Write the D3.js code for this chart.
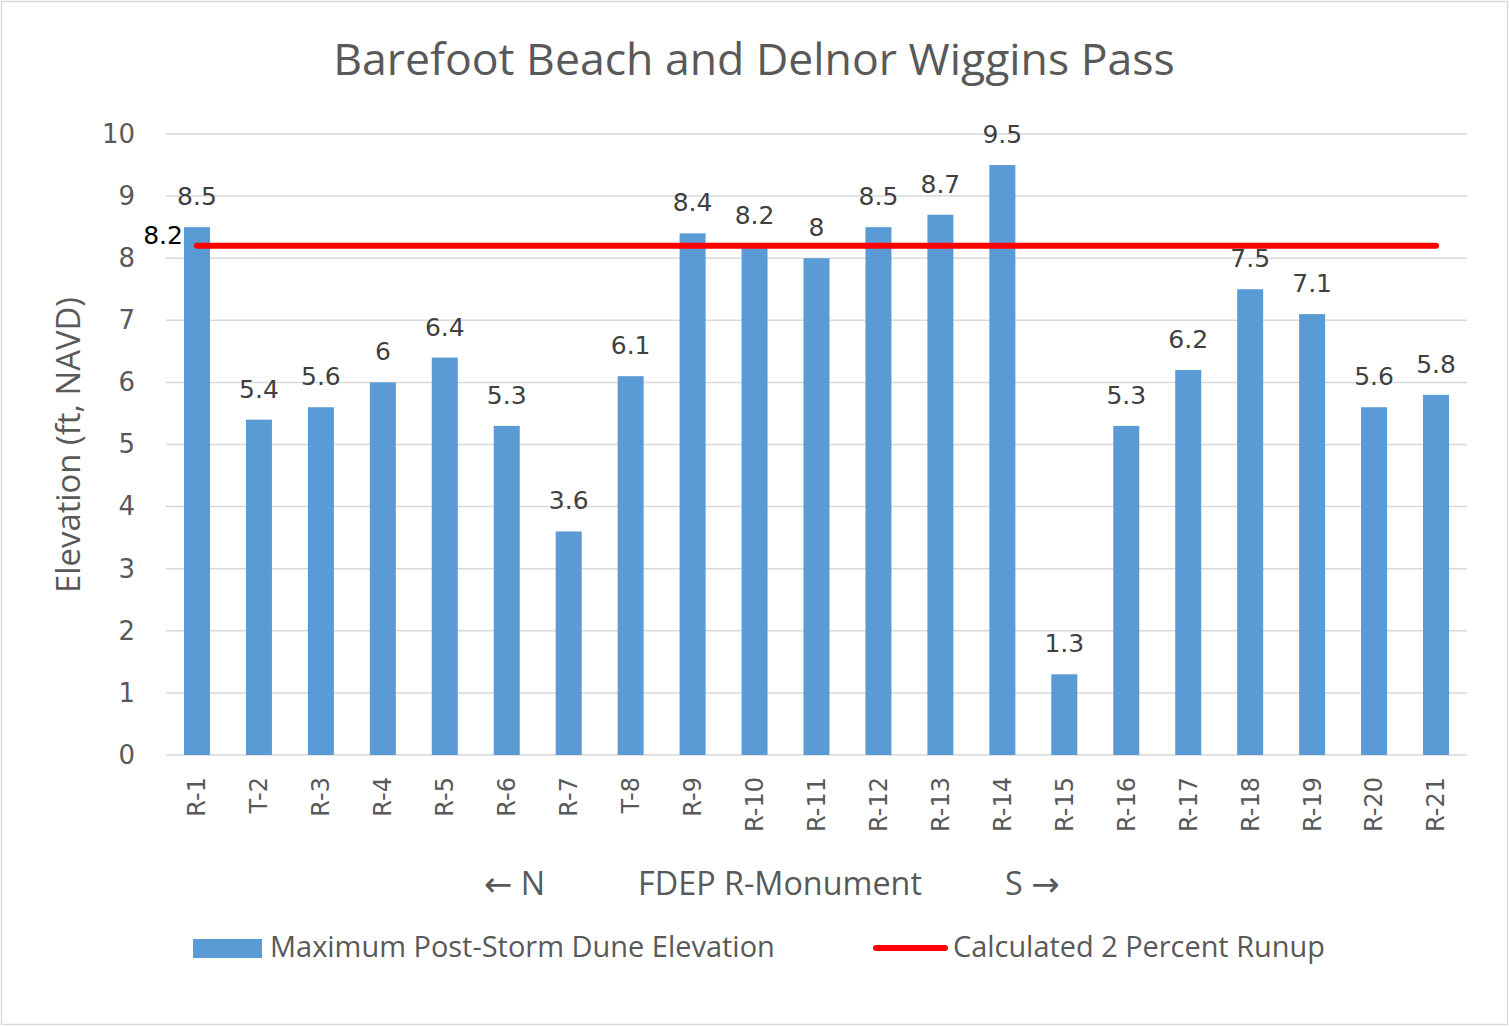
<!DOCTYPE html>
<html>
<head>
<meta charset="utf-8">
<script src="https://cdn.jsdelivr.net/npm/d3@7"></script>
<style>
  html, body { margin: 0; padding: 0; background: #fff; }
  svg { display: block; font-family: "Open Sans", "Noto Sans", sans-serif; }
</style>
</head>
<body>
<svg id="chart" width="1509" height="1027"></svg>
<script>
const categories = ["R-1","T-2","R-3","R-4","R-5","R-6","R-7","T-8","R-9","R-10","R-11","R-12","R-13","R-14","R-15","R-16","R-17","R-18","R-19","R-20","R-21"];
const duneElevation = [8.5,5.4,5.6,6,6.4,5.3,3.6,6.1,8.4,8.2,8,8.5,8.7,9.5,1.3,5.3,6.2,7.5,7.1,5.6,5.8];
const runup = [8.2,8.2,8.2,8.2,8.2,8.2,8.2,8.2,8.2,8.2,8.2,8.2,8.2,8.2,8.2,8.2,8.2,8.2,8.2,8.2,8.2];
const yTicks = [0,1,2,3,4,5,6,7,8,9,10];
const title = "Barefoot Beach and Delnor Wiggins Pass";
const yTitle = "Elevation (ft, NAVD)";
const xTitle = "FDEP R-Monument";
const seriesNames = ["Maximum Post-Storm Dune Elevation", "Calculated 2 Percent Runup"];

const svg = d3.select("#chart");
const W = 1509, H = 1027;
const plot = {left: 166, right: 1467, top: 134, bottom: 755};
const numFont = "DejaVu Sans, sans-serif";

function fit(sel, target) {
  const w = sel.node().getComputedTextLength();
  const fs = parseFloat(sel.attr("font-size"));
  sel.attr("font-size", fs * target / w);
}

svg.append("rect").attr("x", 1.5).attr("y", 1.5).attr("width", W - 3).attr("height", H - 4)
  .attr("fill", "#fff").attr("stroke", "#d9d9d9").attr("stroke-width", 1.5);

const x = d3.scaleBand().domain(categories).range([plot.left, plot.right]).paddingInner(0.58).paddingOuter(0.29);
const y = d3.scaleLinear().domain([0, 10]).range([plot.bottom, plot.top]);

// gridlines
svg.append("g").selectAll("line").data(yTicks).join("line")
  .attr("x1", plot.left).attr("x2", plot.right)
  .attr("y1", d => y(d)).attr("y2", d => y(d))
  .attr("stroke", "#d9d9d9").attr("stroke-width", 1.5);

// y axis labels
const yAxis = d3.axisLeft(y).tickValues(yTicks).tickSize(0).tickPadding(0).tickFormat(d3.format("d"));
const gy = svg.append("g").attr("transform", `translate(${135},0)`).call(yAxis);
gy.select(".domain").remove();
gy.selectAll("text").attr("font-size", 26).attr("fill", "#595959").attr("font-family", numFont);

// bars
svg.append("g").selectAll("rect").data(categories).join("rect")
  .attr("x", (d) => x(d))
  .attr("width", x.bandwidth())
  .attr("y", (d, i) => y(duneElevation[i]))
  .attr("height", (d, i) => y(0) - y(duneElevation[i]))
  .attr("fill", "#5b9bd5");

// bar labels
svg.append("g").selectAll("text").data(categories).join("text")
  .attr("x", d => x(d) + x.bandwidth() / 2)
  .attr("y", (d, i) => y(duneElevation[i]) - 22)
  .attr("text-anchor", "middle")
  .attr("font-size", 25).attr("fill", "#404040").attr("font-family", numFont)
  .text((d, i) => duneElevation[i]);

// x axis
const xAxis = d3.axisBottom(x).tickSize(0).tickPadding(0);
const gx = svg.append("g").attr("transform", `translate(0,${plot.bottom})`).call(xAxis);
gx.select(".domain").remove();
gx.selectAll("text")
  .attr("font-size", 24).attr("fill", "#595959").attr("font-family", numFont)
  .attr("text-anchor", "end")
  .attr("transform", "rotate(-90)")
  .attr("x", -22).attr("y", 0).attr("dy", "0.35em");

// runup line
const line = d3.line().x((d, i) => x(categories[i]) + x.bandwidth() / 2).y(d => y(d));
svg.append("path").datum(runup).attr("d", line)
  .attr("fill", "none").attr("stroke", "#ff0000").attr("stroke-width", 6).attr("stroke-linecap", "round");
svg.append("text")
  .attr("x", x(categories[0]) + x.bandwidth() / 2 - 14)
  .attr("y", y(runup[0]) - 2)
  .attr("text-anchor", "end")
  .attr("font-size", 25).attr("fill", "#000").attr("font-family", numFont)
  .text(runup[0]);

// title
const t = svg.append("text").attr("x", 754).attr("y", 75).attr("text-anchor", "middle")
  .attr("font-size", 40).attr("fill", "#595959").text(title);
fit(t, 842);

// y title
const yt = svg.append("text").attr("transform", `translate(80,445) rotate(-90)`).attr("text-anchor", "middle")
  .attr("font-size", 26).attr("fill", "#595959").text(yTitle);
fit(yt, 296);

// x title
const xt = svg.append("text").attr("x", 780).attr("y", 895).attr("text-anchor", "middle")
  .attr("font-size", 26).attr("fill", "#595959").text(xTitle);
fit(xt, 284);
const ln = svg.append("text").attr("x", 545).attr("y", 895).attr("text-anchor", "end")
  .attr("font-size", xt.attr("font-size")).attr("fill", "#595959");
ln.append("tspan").attr("font-family", numFont).attr("font-size", 34).attr("dy", 1).text("\u2190");
ln.append("tspan").attr("dy", -1).text(" N");
const ls = svg.append("text").attr("x", 1005).attr("y", 895).attr("text-anchor", "start")
  .attr("font-size", xt.attr("font-size")).attr("fill", "#595959");
ls.append("tspan").text("S ");
ls.append("tspan").attr("font-family", numFont).attr("font-size", 34).attr("dy", 1).text("\u2192");

// legend
svg.append("rect").attr("x", 193).attr("y", 939).attr("width", 69).attr("height", 19).attr("fill", "#5b9bd5");
const l1 = svg.append("text").attr("x", 270).attr("y", 957).attr("font-size", 26).attr("fill", "#595959").text(seriesNames[0]);
fit(l1, 505);
svg.append("line").attr("x1", 876).attr("x2", 945).attr("y1", 948).attr("y2", 948)
  .attr("stroke", "#ff0000").attr("stroke-width", 6).attr("stroke-linecap", "round");
const l2 = svg.append("text").attr("x", 953).attr("y", 957).attr("font-size", 26).attr("fill", "#595959").text(seriesNames[1]);
fit(l2, 372);
</script>
</body>
</html>
